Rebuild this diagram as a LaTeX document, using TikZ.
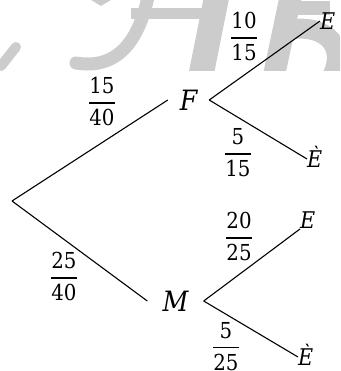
\documentclass[tikz,border=0pt]{standalone}
\usepackage{fontspec}
\newfontfamily\cam{DejaVu Serif Condensed}
\DeclareFontShape{OML}{cmm}{m}{it}{<->cmmi10}{}
\DeclareFontShape{OMS}{cmsy}{m}{n}{<->cmsy10}{}
\DeclareFontShape{OT1}{cmr}{m}{n}{<->cmr10}{}
\DeclareFontShape{OMX}{cmex}{m}{n}{<->cmex10}{}
\newcommand{\prb}[2]{$\displaystyle{\hbox{\cam #1}\above1.9pt\hbox{\cam #2}}$}
\begin{document}
\begin{tikzpicture}[x=1pt,y=-1pt,
  wm/.style={draw=black!20, line cap=round},
  big/.style={inner sep=0pt, font=\fontsize{28}{30}\selectfont\cam\itshape},
  leaf/.style={inner sep=0pt, font=\fontsize{23}{26}\selectfont\cam\itshape},
  prob/.style={inner sep=0pt, anchor=base, font=\fontsize{22}{24}\selectfont},
  br/.style={line width=1.1pt}]
\useasboundingbox (0,0) rectangle (340,371);
% watermark (faint, cut off at its foot)
\begin{scope}
\clip (0,0) rectangle (340,71);
\draw[wm, line width=10pt] (16,47) -- (1,66);
\fill[black!20] (91,0) -- (111,0) -- (101,6) -- cycle;
\draw[wm, line width=13pt] (149,-8) .. controls (140,40) and (118,70) .. (76,63);
\draw[wm, line width=11pt, line cap=butt] (131,14) -- (209,14);
\draw[wm, line width=25pt, line cap=butt] (217,-5) -- (200,80);
\draw[wm, line width=22pt, line cap=butt] (291,-5) -- (273,80);
\draw[wm, line width=20pt, line cap=butt] (285,30) .. controls (330,22) and (348,50) .. (330,80);
\draw[wm, line width=14pt, line cap=butt] (283,8) -- (330,8);
\end{scope}
% nodes
\coordinate (R) at (12,201);
\node[big, minimum width=41pt] (F) at (188.5,100) {F};
\node[big, minimum width=56pt] (M) at (175.5,301) {M\hspace{14pt}};
\node[leaf, anchor=west] (E1) at (320,21) {E};
\node[leaf, anchor=west] (E2) at (307,159) {\vphantom{E}\smash{È}};
\node[leaf, anchor=south west] (E3) at (300,229) {E};
\node[leaf, anchor=west] (E4) at (298,357) {\vphantom{E}\smash{È}};
% connectors
\draw[br] (R) -- (F.west);
\draw[br] (R) -- (M.west);
\draw[br] (F.east) -- (E1.west);
\draw[br] (F.east) -- (E2.west);
\draw[br] (M.east) -- (E3.south west);
\draw[br] (M.east) -- (E4.west);
% probabilities (bar at given y; math axis is 0.25em above base)
\node[prob] (p1) at (244,43.5) {\prb{10}{15}};
\node[prob] (p2) at (102,108.5) {\prb{15}{40}};
\node[prob] (p3) at (238,159.5) {\prb{5}{15}};
\node[prob] (p4) at (239,243.5) {\prb{20}{25}};
\node[prob] (p5) at (64,283.5) {\prb{25}{40}};
\node[prob] (p6) at (226,353) {\prb{5}{25}};
\end{tikzpicture}
\end{document}
